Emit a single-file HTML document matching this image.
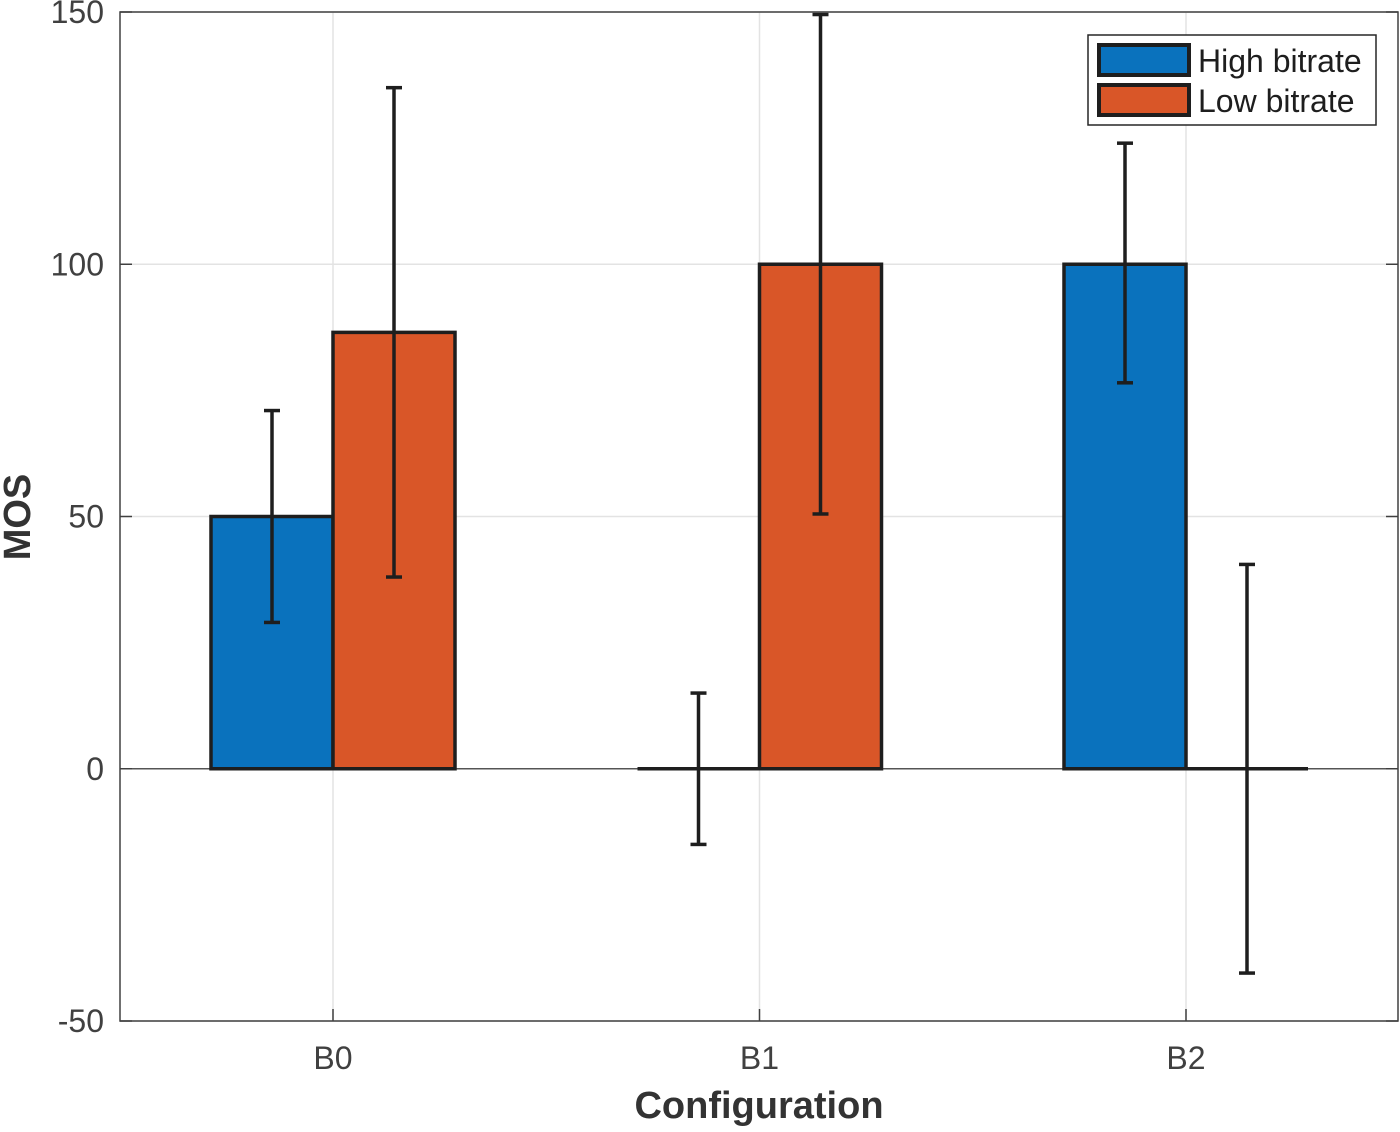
<!DOCTYPE html>
<html><head><meta charset="utf-8"><style>
body{margin:0;background:#fff;}
svg text{font-family:"Liberation Sans",Arial,sans-serif;}
</style></head><body>
<svg id="chart" width="1400" height="1127" xmlns="http://www.w3.org/2000/svg">
<g id="grid"></g>
<g id="bars"></g>
<g id="errs"></g>
<g id="axes"></g>
<text x="30" y="517" transform="rotate(-90 30 517)" text-anchor="middle" font-size="38" font-weight="bold" fill="#333">MOS</text>
<text x="759" y="1118" text-anchor="middle" font-size="38" font-weight="bold" fill="#333">Configuration</text>
<g>
<rect x="1088" y="35" width="288" height="90" fill="#fff" stroke="#262626" stroke-width="1.5"/>
<rect x="1099" y="45" width="90" height="30" fill="#0a72bd" stroke="#1e1e1e" stroke-width="4"/>
<text x="1198" y="72" font-size="32" fill="#1e1e1e">High bitrate</text>
<rect x="1099" y="85" width="90" height="30" fill="#d95628" stroke="#1e1e1e" stroke-width="4"/>
<text x="1198" y="112" font-size="32" fill="#1e1e1e">Low bitrate</text>
</g>
</svg>
<script>
const categories=["B0","B1","B2"];
const highValues=[50,0,100];
const lowValues=[86.5,100,0];
const highErrLow=[29,-15,76.5];
const highErrHigh=[71,15,124];
const lowErrLow=[38,50.5,-40.5];
const lowErrHigh=[135,149.5,40.5];
const yTicks=[-50,0,50,100,150];

const L=120,R=1398,T=12,B=1021,yMin=-50,yMax=150;
const y=v=>B-(v-yMin)/(yMax-yMin)*(B-T);
const x=i=>333+i*426.5;
const bw=122;
const NS="http://www.w3.org/2000/svg";
function mk(tag,attrs,parent){const e=document.createElementNS(NS,tag);for(const k in attrs)e.setAttribute(k,attrs[k]);document.getElementById(parent).appendChild(e);return e;}
yTicks.forEach(t=>{const l=mk('line',{x1:L,x2:R,y1:y(t),y2:y(t),stroke:'#e3e3e3','stroke-width':1.5},'grid');


const tx=mk('text',{x:104,y:y(t)+11,'text-anchor':'end','font-size':32,fill:'#404040'},'axes');tx.textContent=t;


mk('line',{x1:L,x2:L+12,y1:y(t),y2:y(t),stroke:'#404040','stroke-width':1.5},'axes');
mk('line',{x1:R,x2:R-12,y1:y(t),y2:y(t),stroke:'#404040','stroke-width':1.5},'axes');});
categories.forEach((c,i)=>{const g=mk('line',{x1:x(i),x2:x(i),y1:T,y2:B,stroke:'#e3e3e3','stroke-width':1.5},'grid');


const tx=mk('text',{x:x(i),y:1069,'text-anchor':'middle','font-size':32,fill:'#404040'},'axes');tx.textContent=c;


mk('line',{x1:x(i),x2:x(i),y1:B,y2:B-12,stroke:'#404040','stroke-width':1.5},'axes');});
mk('line',{x1:L,x2:R,y1:y(0),y2:y(0),stroke:'#555','stroke-width':1.5},'grid');
function bar(i,v,off,fill,name){const x0=x(i)+off,x1=x0+bw,y0=y(0),yv=y(v);
const r=mk('path',{d:`M${x0},${y0}L${x0},${yv}L${x1},${yv}L${x1},${y0}Z`,fill:fill,stroke:'#1e1e1e','stroke-width':3.5},'bars');

}
function err(cx,lo,hi,name){const g=mk('g',{},'errs');


const s={stroke:'#1e1e1e','stroke-width':3.5};
const a=document.createElementNS(NS,'line');[['x1',cx],['x2',cx],['y1',y(lo)],['y2',y(hi)]].forEach(p=>a.setAttribute(p[0],p[1]));
for(const k in s)a.setAttribute(k,s[k]);g.appendChild(a);
[lo,hi].forEach(v=>{const c=document.createElementNS(NS,'line');[['x1',cx-8],['x2',cx+8],['y1',y(v)],['y2',y(v)]].forEach(p=>c.setAttribute(p[0],p[1]));for(const k in s)c.setAttribute(k,s[k]);g.appendChild(c);});}
categories.forEach((c,i)=>{bar(i,highValues[i],-bw,'#0a72bd','bar-high-'+c);bar(i,lowValues[i],0,'#d95628','bar-low-'+c);});
categories.forEach((c,i)=>{err(x(i)-bw/2,highErrLow[i],highErrHigh[i],'errorbar-high-'+c);err(x(i)+bw/2,lowErrLow[i],lowErrHigh[i],'errorbar-low-'+c);});
const fr=mk('rect',{x:L,y:T,width:R-L,height:B-T,fill:'none',stroke:'#404040','stroke-width':1.5},'axes');


</script>
</body></html>
